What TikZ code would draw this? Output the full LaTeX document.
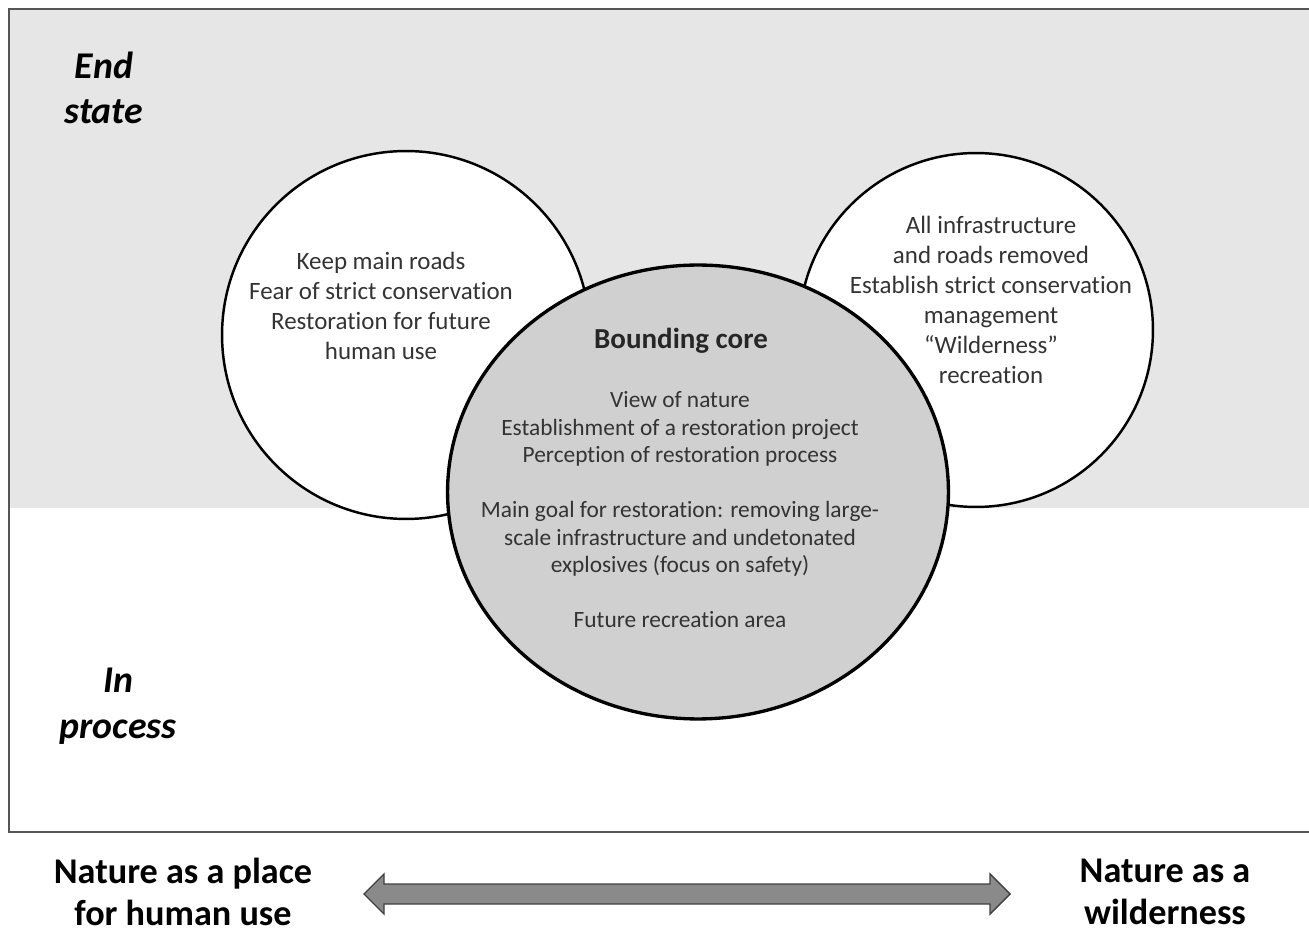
\documentclass[tikz,border=0pt]{standalone}
\usepackage{fontspec}
\setmainfont[Ligatures=CommonOff]{Carlito}
\usepackage{tikz}
\usetikzlibrary{shapes.geometric, positioning, calc}

\definecolor{bandgray}{HTML}{E6E6E6}
\definecolor{coregray}{HTML}{D0D0D0}
\definecolor{textgray}{HTML}{333333}
\definecolor{framegray}{HTML}{555555}
\definecolor{arrowgray}{HTML}{8A8A8A}

\tikzset{
  sidecircle/.style={draw, circle, fill=white, line width=1.4pt, inner sep=0pt},
  sidetext/.style={align=center, text=textgray, font=\fontsize{14.2}{17.1}\selectfont},
  corelabel/.style={align=center, text=textgray, font=\fontsize{13.3}{15.65}\selectfont},
  phaselabel/.style={align=center, font=\fontsize{21.5}{26}\selectfont\bfseries\itshape},
  poletext/.style={align=center, inner sep=0pt, font=\fontsize{20.6}{24}\selectfont\bfseries}
}

\begin{document}
\begin{tikzpicture}[x=0.02cm, y=-0.02cm]
\useasboundingbox (0,0) rectangle (1309,935);

% Background band and frame
\fill[bandgray] (9,9) rectangle (1309,508);
\draw[framegray, line width=1.2pt] (1309,9) -- (9,9) -- (9,832) -- (1309,832);

% Phase labels
\node[phaselabel] (endstate) at (104,88) {End\\state};
\node[phaselabel] (inprocess) at (118,706) {In\\process};

% Circles
\node[sidecircle, minimum size=7.36cm] (human) at (406,335) {};
\node[sidecircle, minimum size=7.08cm] (wild) at (976,330) {};
\node[draw, ellipse, fill=coregray, line width=1.9pt, inner sep=0pt,
      minimum width=10.02cm, minimum height=9.08cm] (core) at (698,492) {};

% Circle texts
\node[sidetext] (humantext) at (381,306) {
    Keep main roads\\
    Fear of strict conservation\\
    Restoration for future\\
    human use
};

\node[sidetext] (wildtext) at (991,300) {
    All infrastructure\\
    and roads removed\\
    Establish strict conservation\\
    management\\
    ``Wilderness''\\
    recreation
};

\node[font=\fontsize{16.5}{19}\selectfont\bfseries, text=black!85] (coretitle) at (681,341) {Bounding core};

\node[corelabel] (coretext) at (680,510) {
    View of nature\\
    Establishment of a restoration project\\
    Perception of restoration process\\[15.65pt]
    Main goal for restoration: removing large-\\
    scale infrastructure and undetonated\\
    explosives (focus on safety)\\[15.65pt]
    Future recreation area
};

% Gradient between the two poles
\node[poletext] (usepole) at (183,892) {Nature as a place\\for human use};
\node[poletext] (wildpole) at (1165,892) {Nature as a\\wilderness};
\coordinate (axisL) at (364,894);
\coordinate (axisR) at (1010,894);
\draw[black!75, fill=arrowgray, line width=0.8pt, line join=miter]
  (axisL) -- ++(20,-20) -- ++(0,10) -- ($(axisR)+(-20,-10)$) -- ++(0,-10) -- (axisR)
  -- ++(-20,20) -- ++(0,-10) -- ($(axisL)+(20,10)$) -- ++(0,10) -- cycle;
\end{tikzpicture}
\end{document}
